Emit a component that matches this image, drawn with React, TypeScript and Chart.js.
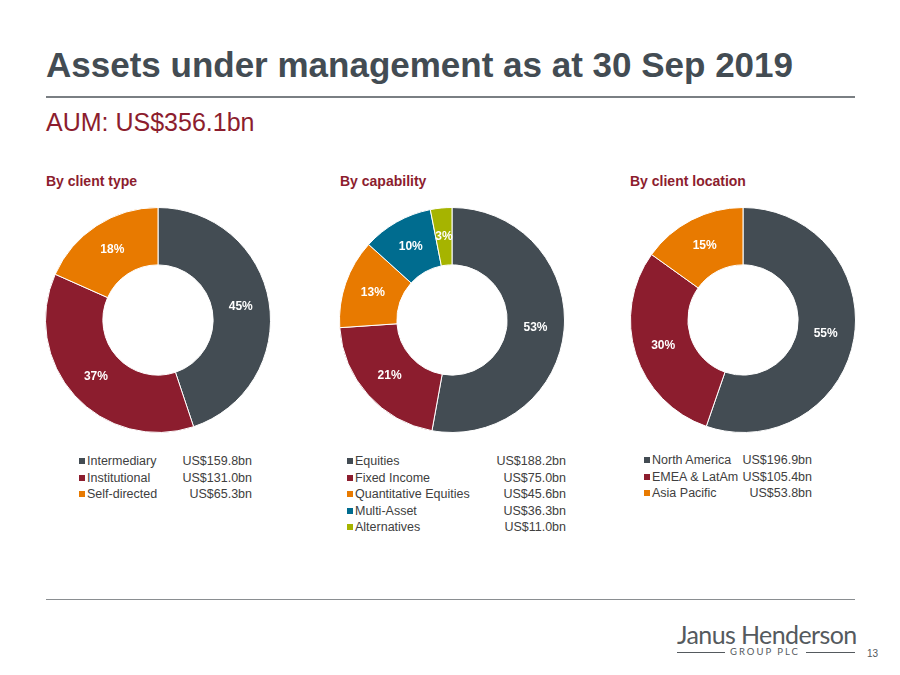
import React, { useEffect, useRef } from "react";
import { Chart, registerables } from "chart.js";

Chart.register(...registerables);

const DARK = "#434C53";
const CRIMSON = "#8C1D2E";
const ORANGE = "#E87A00";
const TEAL = "#006C8F";
const OLIVE = "#A6B400";

const clientTypeLabels = ["Intermediary", "Institutional", "Self-directed"];
const clientTypeValues = [159.8, 131.0, 65.3];
const clientTypePct = ["45%", "37%", "18%"];
const clientTypeColors = [DARK, CRIMSON, ORANGE];

const capabilityLabels = ["Equities", "Fixed Income", "Quantitative Equities", "Multi-Asset", "Alternatives"];
const capabilityValues = [188.2, 75.0, 45.6, 36.3, 11.0];
const capabilityPct = ["53%", "21%", "13%", "10%", "3%"];
const capabilityColors = [DARK, CRIMSON, ORANGE, TEAL, OLIVE];

const locationLabels = ["North America", "EMEA & LatAm", "Asia Pacific"];
const locationValues = [196.9, 105.4, 53.8];
const locationPct = ["55%", "30%", "15%"];
const locationColors = [DARK, CRIMSON, ORANGE];

const FONT = "'Liberation Sans', Arial, sans-serif";

const pctPlugin = {
  id: "pctLabels",
  afterDatasetsDraw(chart: any) {
    const ctx = chart.ctx;
    const pcts: string[] = chart.options.plugins.pctLabels.labels;
    const meta = chart.getDatasetMeta(0);
    ctx.save();
    ctx.fillStyle = "#ffffff";
    ctx.font = `bold 12px ${FONT}`;
    ctx.textAlign = "center";
    ctx.textBaseline = "middle";
    meta.data.forEach((arc: any, i: number) => {
      const p = arc.tooltipPosition();
      ctx.fillText(pcts[i], p.x, p.y);
    });
    ctx.restore();
  },
};

function Donut(props: { values: number[]; colors: string[]; labels: string[]; pcts: string[]; left: number; top: number }) {
  const ref = useRef<HTMLCanvasElement>(null);
  useEffect(() => {
    const chart = new Chart(ref.current!, {
      type: "doughnut",
      data: {
        labels: props.labels,
        datasets: [
          {
            data: props.values,
            backgroundColor: props.colors,
            borderColor: "#ffffff",
            borderWidth: 1,
          },
        ],
      },
      options: {
        animation: false,
        responsive: false,
        cutout: "49%",
        layout: { padding: 0 },
        plugins: {
          legend: { display: false },
          tooltip: { enabled: false },
          pctLabels: { labels: props.pcts },
        } as any,
      },
      plugins: [pctPlugin],
    });
    return () => chart.destroy();
  }, []);
  return (
    <canvas
      ref={ref}
      width={226}
      height={226}
      style={{ position: "absolute", left: props.left, top: props.top, width: 226, height: 226 }}
    />
  );
}

function Legend(props: { labels: string[]; values: number[]; colors: string[]; markerX: number; valueRight: number; top: number; step: number }) {
  return (
    <>
      {props.labels.map((l, i) => {
        const y = props.top + i * props.step;
        return (
          <React.Fragment key={l}>
            <div
              style={{
                position: "absolute",
                left: props.markerX,
                top: y - 3,
                width: 6,
                height: 6,
                background: props.colors[i],
              }}
            />
            <div
              style={{
                position: "absolute",
                left: props.markerX + 8,
                top: y - 8,
                lineHeight: "16px",
                fontSize: 12.5,
                color: "#404040",
                whiteSpace: "nowrap",
              }}
            >
              {l}
            </div>
            <div
              style={{
                position: "absolute",
                right: 900 - props.valueRight,
                top: y - 8,
                lineHeight: "16px",
                fontSize: 12.5,
                color: "#404040",
                whiteSpace: "nowrap",
              }}
            >
              {"US$" + props.values[i].toFixed(1) + "bn"}
            </div>
          </React.Fragment>
        );
      })}
    </>
  );
}

export default function App() {
  return (
    <div
      style={{
        position: "absolute",
        left: 0,
        top: 0,
        width: 900,
        height: 675,
        background: "#ffffff",
        fontFamily: FONT,
        overflow: "hidden",
      }}
    >
      <div
        style={{
          position: "absolute",
          left: 46,
          top: 45,
          fontSize: 35,
          fontWeight: "bold",
          color: DARK,
          whiteSpace: "nowrap",
          lineHeight: "40px",
        }}
      >
        Assets under management as at 30 Sep 2019
      </div>
      <div style={{ position: "absolute", left: 46, top: 96, width: 809, height: 2, background: "#7a7f83" }} />
      <div
        style={{
          position: "absolute",
          left: 46,
          top: 107,
          fontSize: 25,
          color: CRIMSON,
          whiteSpace: "nowrap",
          lineHeight: "30px",
        }}
      >
        AUM: US$356.1bn
      </div>

      <div style={{ position: "absolute", left: 46, top: 172, fontSize: 14, fontWeight: "bold", color: CRIMSON, lineHeight: "18px" }}>
        By client type
      </div>
      <div style={{ position: "absolute", left: 340, top: 172, fontSize: 14, fontWeight: "bold", color: CRIMSON, lineHeight: "18px" }}>
        By capability
      </div>
      <div style={{ position: "absolute", left: 630, top: 172, fontSize: 14, fontWeight: "bold", color: CRIMSON, lineHeight: "18px" }}>
        By client location
      </div>

      <Donut values={clientTypeValues} colors={clientTypeColors} labels={clientTypeLabels} pcts={clientTypePct} left={45} top={207} />
      <Donut values={capabilityValues} colors={capabilityColors} labels={capabilityLabels} pcts={capabilityPct} left={339} top={207} />
      <Donut values={locationValues} colors={locationColors} labels={locationLabels} pcts={locationPct} left={630} top={207} />

      <Legend labels={clientTypeLabels} values={clientTypeValues} colors={clientTypeColors} markerX={79} valueRight={252} top={461} step={16.5} />
      <Legend labels={capabilityLabels} values={capabilityValues} colors={capabilityColors} markerX={347} valueRight={566} top={461} step={16.5} />
      <Legend labels={locationLabels} values={locationValues} colors={locationColors} markerX={644} valueRight={812} top={460} step={16.5} />

      <div style={{ position: "absolute", left: 46, top: 599, width: 809, height: 1, background: "#8a8e91" }} />

      <div
        style={{
          position: "absolute",
          left: 677,
          top: 619,
          fontFamily: "Lato, 'Open Sans', sans-serif",
          fontSize: 25,
          color: "#555a5e",
          whiteSpace: "nowrap",
          lineHeight: "30px",
          letterSpacing: -0.6,
        }}
      >
        Janus Henderson
      </div>
      <div style={{ position: "absolute", left: 677, top: 652, width: 48, height: 1, background: "#555a5e" }} />
      <div
        style={{
          position: "absolute",
          left: 725,
          top: 646,
          width: 80,
          textAlign: "center",
          fontFamily: "Lato, sans-serif",
          fontSize: 9.5,
          letterSpacing: 2,
          color: "#555a5e",
          lineHeight: "12px",
          whiteSpace: "nowrap",
        }}
      >
        GROUP PLC
      </div>
      <div style={{ position: "absolute", left: 806, top: 652, width: 49, height: 1, background: "#555a5e" }} />
      <div style={{ position: "absolute", left: 867, top: 648, fontSize: 10, color: "#555a5e", lineHeight: "12px" }}>13</div>
    </div>
  );
}
